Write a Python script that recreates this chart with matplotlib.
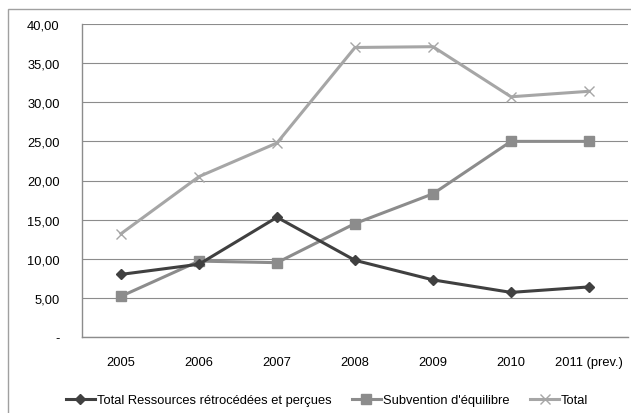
import matplotlib.pyplot as plt
from matplotlib.patches import Rectangle
from matplotlib.ticker import FuncFormatter

plt.rcParams["font.family"] = ["Liberation Sans", "DejaVu Sans"]

YEARS = ["2005", "2006", "2007", "2008", "2009", "2010", "2011 (prev.)"]
RESSOURCES = [8.0, 9.3, 15.3, 9.8, 7.3, 5.7, 6.4]
SUBVENTION = [5.2, 9.7, 9.5, 14.5, 18.3, 25.0, 25.0]
TOTAL = [13.2, 20.5, 24.8, 37.0, 37.1, 30.7, 31.4]


def fmt(v, _pos):
    if abs(v) < 1e-9:
        return "-"
    return f"{v:.2f}".replace(".", ",")


fig = plt.figure(figsize=(6.31, 4.14), dpi=100)
ax = fig.add_axes([82 / 631, 76 / 414, 546 / 631, 313 / 414])

x = list(range(len(YEARS)))
ax.plot(x, RESSOURCES, color="#404040", lw=2.2, marker="D", ms=5.5,
        label="Total Ressources rétrocédées et perçues", zorder=4)
ax.plot(x, SUBVENTION, color="#8c8c8c", lw=2.2, marker="s", ms=7,
        label="Subvention d'équilibre", zorder=3)
ax.plot(x, TOTAL, color="#a6a6a6", lw=2.2, marker="x", ms=7, mew=1,
        label="Total", zorder=2)

ax.set_xlim(-0.5, len(YEARS) - 0.5)
ax.set_ylim(0, 40)
ax.set_yticks(range(0, 41, 5))
ax.yaxis.set_major_formatter(FuncFormatter(fmt))
ax.set_xticks(x)
ax.set_xticklabels(YEARS)
ax.grid(axis="y", color="#8c8c8c", lw=0.8)
ax.set_axisbelow(True)
for side in ("top", "right"):
    ax.spines[side].set_visible(False)
for side in ("left", "bottom"):
    ax.spines[side].set_color("#8c8c8c")
    ax.spines[side].set_linewidth(1.0)
ax.tick_params(axis="both", length=0, labelsize=9.3, colors="black")
ax.tick_params(axis="y", pad=16)
ax.tick_params(axis="x", pad=14)

fig.legend(loc="center", bbox_to_anchor=(327 / 631, 13 / 414), ncol=3,
           frameon=False, fontsize=9.3, handlelength=2.25, columnspacing=1.6,
           handletextpad=0.15, borderaxespad=0, borderpad=0)

fig.patches.append(Rectangle((8 / 631, -0.1), 1.2, 1.1 - 10 / 414,
                             transform=fig.transFigure, fill=False,
                             edgecolor="#a0a0a0", lw=1.0))

fig.savefig("out.png", dpi=100)
